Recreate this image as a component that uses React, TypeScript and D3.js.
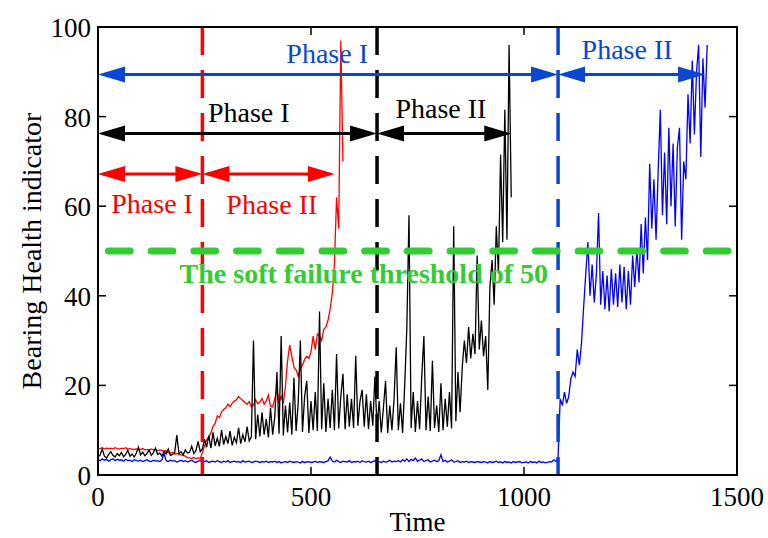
import * as d3 from "d3";

const W = 768;
const H = 538;
const MARGIN = { top: 27, right: 31, bottom: 63, left: 98 };
const STEP = 5; // time step between samples

// Bearing 1 (red), t = 0..575
const redValues = [
  6.0, 5.9, 6.1, 5.8, 6.0, 5.9, 6.0, 5.8, 6.1, 5.9, 5.8, 6.0, 5.9, 6.1, 5.8, 5.9, 5.8,
  5.7, 5.8, 5.6, 5.7, 5.9, 5.6, 5.7, 5.5, 5.8, 5.6, 5.7, 5.4, 5.6, 5.5, 5.3, 5.4,
  5.0, 4.9, 5.1, 4.7, 4.8, 4.6, 4.5, 4.4, 4.2,
  3.9, 3.8, 3.7, 3.9, 3.6, 3.8, 3.7,
  5.0, 6.5, 7.8, 8.5, 9.4, 10.8, 11.5, 13.2, 12.8, 14.1, 14.6, 15.0, 15.8, 15.2, 16.0,
  16.5, 16.8, 17.5, 17.0, 16.6, 16.2, 15.8, 16.4, 15.2, 15.6, 16.8, 15.9, 16.3, 17.1, 15.8,
  16.5, 17.8, 15.4, 15.2, 17.0, 19.2, 16.2, 17.5, 16.0, 19.8, 25.5, 29.0, 26.5, 24.0, 23.5,
  22.0, 23.8, 24.5, 25.8, 26.5, 26.0, 27.5, 31.0, 28.0, 31.5, 31.0, 30.0, 32.5, 33.0, 34.6,
  37.0, 40.6,
  47.0, 62.0, 55.0, 97.0, 70.0,
];

// Bearing 2 (black), t = 0..970
const blackValues = [
  4.0, 4.5, 5.8, 4.2, 3.8, 4.6, 5.2, 4.4, 4.0, 4.8,
  4.3, 5.0, 4.1, 4.6, 5.5, 4.2, 4.7, 4.0, 4.9, 6.2,
  4.5, 5.1, 4.3, 4.8, 5.6, 4.4, 5.0, 6.0, 4.6, 4.9,
  4.2, 5.3, 4.7, 5.8, 4.4, 4.6, 5.0, 8.9, 4.8, 5.2,
  4.5, 5.6, 4.9, 5.1, 6.4, 4.8, 5.5, 7.5, 5.2,
  5.8, 8.0, 6.2, 8.8, 6.0, 9.5, 6.5, 8.2, 6.4, 10.0, 6.8, 8.6,
  7.0, 9.8, 6.6, 8.4, 7.2, 10.5, 7.0, 9.0, 7.4, 10.8, 7.6,
  8.5, 30.0, 8.0, 13.5, 8.6, 14.0, 9.0, 12.5, 8.4, 15.0,
  9.0, 13.0, 23.0, 9.2, 31.0, 8.8, 15.5, 9.5, 16.2, 9.0,
  21.7, 9.8, 16.0, 30.0, 9.6, 17.5, 21.0, 9.4, 16.5, 10.0,
  18.5, 9.8, 36.5, 10.2, 20.5, 9.6, 17.0, 10.5, 19.0, 10.0,
  27.0, 10.4, 17.5, 22.6, 10.2, 18.0, 10.8, 17.0, 10.5, 26.6,
  11.0, 16.5, 19.0, 10.8, 18.0, 10.2, 16.5, 11.0, 22.0,
  10.5, 16.5, 9.5, 15.0, 21.0, 9.4, 15.5, 10.0, 17.0, 28.5,
  10.0, 16.0, 9.4, 20.0, 33.0, 58.0, 10.5, 18.5, 9.6, 16.5,
  10.2, 22.0, 31.0, 10.0, 17.5, 9.8, 25.5, 10.5, 15.5, 9.6,
  20.5, 10.0, 17.0, 10.8, 18.5, 10.4, 55.5, 12.0, 23.0, 14.0,
  24.0, 30.0, 25.0, 33.0, 26.0, 31.5, 27.0, 49.0, 28.0, 34.5,
  26.5, 31.0, 19.0, 42.0, 48.0, 38.0, 55.5, 45.0, 71.5, 52.0,
  81.5, 52.5, 96.0, 62.0,
];

// Bearing 3 (blue), t = 0..1430
const blueValues = [
  3.4, 3.2, 3.6, 3.3, 3.5, 3.1, 3.4, 3.6, 3.2, 3.5, 3.3, 3.4, 3.1, 3.5, 3.2, 3.3, 3.0, 3.4, 3.2, 3.1,
  3.3, 3.0, 3.2, 3.4, 3.1, 3.0, 3.3, 3.1, 3.2, 3.0, 3.4, 4.8, 3.2, 3.0, 3.3, 3.1, 3.2, 2.9, 3.1, 3.3,
  3.0, 3.2, 2.9, 3.1, 3.3, 3.0, 2.8, 3.1, 3.2, 2.9, 3.0, 3.2, 2.8, 3.0, 3.1, 2.9, 3.2, 3.0, 2.8, 3.1,
  2.9, 3.2, 2.8, 3.0, 3.1, 2.9, 3.0, 2.8, 3.2, 2.9, 3.0, 3.1, 2.8, 2.9, 3.1, 3.0, 2.8, 3.0, 2.9, 3.1,
  2.8, 3.0, 2.9, 3.1, 2.8, 3.0, 2.7, 2.9, 3.0, 2.8, 3.1, 2.9, 2.8, 3.0, 2.9, 2.7, 3.0, 2.8, 2.9, 3.0,
  2.8, 2.9, 3.1, 2.8, 3.0, 2.9, 2.8, 3.0, 3.2, 4.0, 3.1, 2.9, 3.3, 3.0, 2.8, 3.1, 3.0, 2.9, 3.2, 2.8,
  3.0, 2.9, 3.1, 2.8, 3.2, 3.0, 2.9, 3.1, 2.8, 3.0, 3.2, 2.9, 3.0, 2.8, 3.1, 2.9, 3.0, 3.3, 2.9, 3.1,
  3.0, 3.2, 2.9, 3.4, 3.1, 3.6, 3.0, 3.5, 3.2, 3.8, 3.1, 3.3, 3.6, 3.0, 3.2, 3.4, 2.9, 3.1, 3.3, 3.0,
  3.2, 4.5, 3.0, 3.3, 2.9, 3.1, 3.4, 2.9, 3.0, 3.2, 2.8, 3.0, 2.9, 3.1, 2.8, 3.0, 2.9, 2.8, 3.0, 2.9,
  2.8, 3.0, 2.9, 2.7, 3.0, 2.8, 2.9, 3.1, 2.8, 2.9, 2.7, 3.0, 2.8, 2.9, 2.7, 3.0, 2.8, 2.9, 3.0, 2.7,
  2.8, 2.9, 2.7, 3.0, 2.8, 2.9, 2.7, 3.1, 2.8, 2.9, 2.7, 2.8, 3.0, 2.9, 3.4, 3.0,
  4.0, 17.0, 15.5, 18.5, 16.0, 17.5, 21.5, 23.0, 22.0, 28.0, 24.5, 29.5,
  37.5, 45.0, 52.0, 40.0, 47.0, 38.5, 45.0, 58.5, 38.0, 45.5,
  37.0, 44.5, 36.5, 46.0, 38.0, 45.0, 37.5, 47.0, 38.5, 46.5,
  37.0, 45.5, 38.0, 49.0, 42.0, 50.5, 43.0, 56.0, 45.0, 57.5,
  48.0, 69.5, 55.0, 66.0, 52.5, 68.0, 81.5, 58.0, 72.0, 56.0,
  77.5, 60.0, 74.0, 55.5, 73.0, 77.5, 52.5, 70.0, 66.0, 85.0,
  74.0, 92.5, 76.0, 90.0, 96.0, 71.0, 93.0, 82.0, 96.0,
];

const xTicks = [0, 500, 1000, 1500];
const yTicks = [0, 20, 40, 60, 80, 100];
const threshold = 50;

const seriesColors = ["#ff0000", "#000000", "#0000ff"];
const annotColors = ["#ff0000", "#000000", "#0a47d1"];
const phaseSplits = [245, 655, 1080];
const phaseEnds = [556, 970, 1425];
const arrowLevels = [67.2, 76.2, 89.4];
const phaseLabels = [
  { text: "Phase I", t: 127, v: 58.5, s: 0 },
  { text: "Phase II", t: 408, v: 58.3, s: 0 },
  { text: "Phase I", t: 354, v: 78.8, s: 1 },
  { text: "Phase II", t: 805, v: 79.7, s: 1 },
  { text: "Phase I", t: 538, v: 92, s: 2 },
  { text: "Phase II", t: 1242, v: 92.9, s: 2 },
];
const thresholdLabel = { text: "The soft failure threshold of 50", t: 624, v: 42.9 };

const FONT = "'Liberation Serif', 'Times New Roman', serif";
const HEAD_L = 27;
const HEAD_W = 8;

export default function App() {
  const innerW = W - MARGIN.left - MARGIN.right;
  const innerH = H - MARGIN.top - MARGIN.bottom;
  const x = d3.scaleLinear().domain([0, 1500]).range([0, innerW]);
  const y = d3.scaleLinear().domain([0, 100]).range([innerH, 0]);

  const line = d3
    .line<number>()
    .x((_, i) => x(i * STEP))
    .y((d) => y(d));

  const series = [redValues, blackValues, blueValues];

  const head = (px: number, py: number, dir: number) =>
    `${px},${py} ${px - dir * HEAD_L},${py - HEAD_W} ${px - dir * HEAD_L},${py + HEAD_W}`;

  const doubleArrow = (t1: number, t2: number, v: number, color: string, key: string) => {
    const x1 = x(t1);
    const x2 = x(t2);
    const py = y(v);
    return (
      <g key={key} fill={color}>
        <line x1={x1 + 5} x2={x2 - 5} y1={py} y2={py} stroke={color} strokeWidth={3} />
        <polygon points={head(x1, py, -1)} />
        <polygon points={head(x2, py, 1)} />
      </g>
    );
  };

  return (
    <svg
      width={W}
      height={H}
      style={{ position: "absolute", left: 0, top: 0, background: "#fff" }}
      fontFamily={FONT}
    >
      <g transform={`translate(${MARGIN.left},${MARGIN.top})`}>
        {/* data */}
        {series.map((vals, i) => (
          <path key={i} d={line(vals) || ""} fill="none" stroke={seriesColors[i]} strokeWidth={1.3} />
        ))}

        {/* phase split lines */}
        {phaseSplits.map((t, i) => (
          <line
            key={"v" + i}
            x1={x(t)}
            x2={x(t)}
            y1={0}
            y2={innerH}
            stroke={annotColors[i]}
            strokeWidth={3.5}
            strokeDasharray="28 15"
          />
        ))}

        {/* threshold */}
        <line
          x1={10.5}
          x2={innerW - 4}
          y1={y(threshold)}
          y2={y(threshold)}
          stroke="#33cc33"
          strokeWidth={7}
          strokeLinecap="round"
          strokeDasharray="21.7 21"
        />
        <text
          x={x(thresholdLabel.t)}
          y={y(thresholdLabel.v)}
          textAnchor="middle"
          fontSize={28}
          fontWeight="bold"
          fill="#33cc33"
        >
          {thresholdLabel.text}
        </text>

        {/* phase arrows */}
        {arrowLevels.map((v, i) => (
          <g key={"a" + i}>
            {doubleArrow(0, phaseSplits[i], v, annotColors[i], "p1" + i)}
            {doubleArrow(phaseSplits[i], phaseEnds[i], v, annotColors[i], "p2" + i)}
          </g>
        ))}
        {phaseLabels.map((p, i) => (
          <text
            key={"l" + i}
            x={x(p.t)}
            y={y(p.v)}
            textAnchor="middle"
            fontSize={28}
            fill={annotColors[p.s]}
          >
            {p.text}
          </text>
        ))}

        {/* axes box and ticks */}
        <rect x={0} y={0} width={innerW} height={innerH} fill="none" stroke="#000" strokeWidth={2} />
        {xTicks.map((t) => (
          <g key={"xt" + t}>
            <line x1={x(t)} x2={x(t)} y1={innerH} y2={innerH - 8} stroke="#000" strokeWidth={1.5} />
            <line x1={x(t)} x2={x(t)} y1={0} y2={8} stroke="#000" strokeWidth={1.5} />
            <text x={x(t)} y={innerH + 31} textAnchor="middle" fontSize={27}>
              {t}
            </text>
          </g>
        ))}
        {yTicks.map((v) => (
          <g key={"yt" + v}>
            <line x1={0} x2={8} y1={y(v)} y2={y(v)} stroke="#000" strokeWidth={1.5} />
            <line x1={innerW} x2={innerW - 8} y1={y(v)} y2={y(v)} stroke="#000" strokeWidth={1.5} />
            <text x={-7} y={y(v) + 10} textAnchor="end" fontSize={27}>
              {v}
            </text>
          </g>
        ))}
        <text x={innerW / 2} y={innerH + 56} textAnchor="middle" fontSize={27}>
          Time
        </text>
        <text
          transform={`translate(${-57},${innerH / 2}) rotate(-90)`}
          textAnchor="middle"
          fontSize={28}
        >
          Bearing Health indicator
        </text>
      </g>
    </svg>
  );
}
